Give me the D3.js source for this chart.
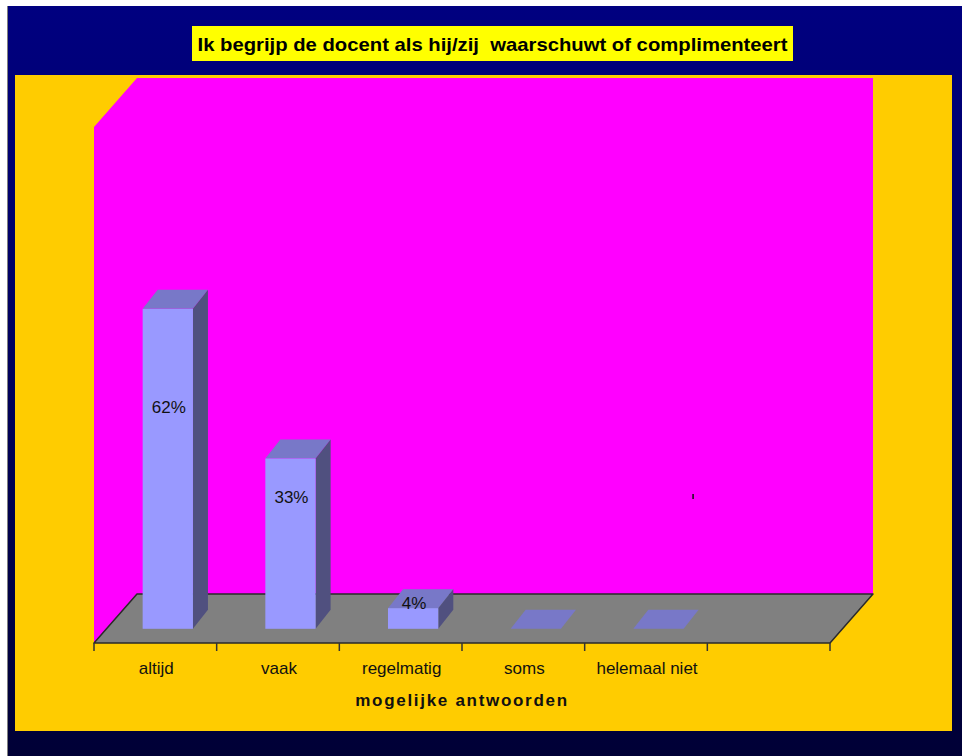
<!DOCTYPE html>
<html>
<head>
<meta charset="utf-8">
<script src="https://cdn.jsdelivr.net/npm/d3@7"></script>
<style>
  html, body { margin: 0; padding: 0; background: #fff; }
  svg { display: block; }
  text { font-family: "Liberation Sans", Arial, sans-serif; white-space: pre; }
</style>
</head>
<body>
<svg id="chart" width="962" height="756"></svg>
<script>
// Survey answers and their shares (percent)
const categories = ["altijd", "vaak", "regelmatig", "soms", "helemaal niet", ""];
const values = [62, 33, 4, 0, 0, null];
const valueLabels = ["62%", "33%", "4%", "", "", ""];
const valueDomain = [0, 100];
const chartTitle = "Ik begrijp de docent als hij/zij  waarschuwt of complimenteert";
const axisTitle = "mogelijke antwoorden";

const svg = d3.select("#chart");
const W = 962, H = 756;

// Background with a navy gradient
const defs = svg.append("defs");
const grad = defs.append("linearGradient").attr("id", "bg").attr("x1", 0).attr("y1", 0).attr("x2", 0).attr("y2", 1);
grad.append("stop").attr("offset", "0%").attr("stop-color", "#000080");
grad.append("stop").attr("offset", "100%").attr("stop-color", "#000036");

svg.append("rect").attr("width", W).attr("height", H).attr("fill", "#ffffff");
svg.append("rect").attr("x", 8).attr("y", 6).attr("width", W - 8).attr("height", H - 6).attr("fill", "url(#bg)");
svg.append("line").attr("x1", 7.5).attr("x2", 7.5).attr("y1", 6).attr("y2", H)
  .attr("stroke", "#808080").attr("stroke-width", 1);

// Plot panel
svg.append("rect").attr("x", 15).attr("y", 75).attr("width", 937).attr("height", 656).attr("fill", "#FFCC00");

// Projection: front plane baseline plus an oblique depth offset
const baseY = 643;
const DX = 43, DY = 49;          // floor depth
const BDX = 15, BDY = 19;        // bar depth
const barT = 0.29;               // bar front position within the floor depth

const x = d3.scaleBand().domain(d3.range(categories.length)).range([94, 830]);
const h = d3.scaleLinear().domain(valueDomain).range([0, 516]);

const P = (px, t, ht) => [px + t * DX, baseY - t * DY - ht];

// Back and side walls
const x0 = x.range()[0], x1 = x.range()[1], hMax = h(valueDomain[1]);
svg.append("polygon")
  .attr("points", [P(x0, 0, 0), P(x0, 0, hMax), P(x0, 1, hMax), P(x1, 1, hMax), P(x1, 1, 0), P(x0, 1, 0)].map(p => p.join(",")).join(" "))
  .attr("fill", "#FF00FF");

// Floor
svg.append("polygon")
  .attr("points", [P(x0, 0, 0), P(x1, 0, 0), P(x1, 1, 0), P(x0, 1, 0)].map(p => p.join(",")).join(" "))
  .attr("fill", "#808080").attr("stroke", "#2a2a2a").attr("stroke-width", 1.5).attr("stroke-linejoin", "round");

// Category boundary ticks
const bounds = d3.range(categories.length + 1).map(i => i < categories.length ? x(i) : x1);
svg.append("g").selectAll("line").data(bounds).join("line")
  .attr("x1", d => d).attr("x2", d => d).attr("y1", baseY).attr("y2", baseY + 8)
  .attr("stroke", "#333").attr("stroke-width", 1.5);

// Category labels
svg.append("g").selectAll("text").data(categories).join("text")
  .attr("x", (d, i) => x(i) + x.bandwidth() / 2 + 1)
  .attr("y", 674)
  .attr("text-anchor", "middle")
  .attr("font-size", 17)
  .attr("fill", "#111")
  .text(d => d);

// Bars (front, top, side faces)
const barW = x.bandwidth() * 0.41;
const bars = values.map((v, i) => ({ v, i })).filter(d => d.v !== null);
const g = svg.append("g");
bars.forEach(d => {
  const cx = x(d.i) + x.bandwidth() / 2 + barT * DX;
  const left = cx - barW / 2, right = cx + barW / 2;
  const yb = baseY - barT * DY;
  const yt = yb - h(d.v);
  const pts = a => a.map(p => p.join(",")).join(" ");
  // top face
  g.append("polygon")
    .attr("points", pts([[left, yt], [right, yt], [right + BDX, yt - BDY], [left + BDX, yt - BDY]]))
    .attr("fill", "#7878C8");
  if (d.v > 0) {
    // side face
    g.append("polygon")
      .attr("points", pts([[right, yt], [right + BDX, yt - BDY], [right + BDX, yb - BDY], [right, yb]]))
      .attr("fill", "#50507F");
    // front face
    g.append("rect").attr("x", left).attr("y", yt).attr("width", barW).attr("height", yb - yt)
      .attr("fill", "#9999FF");
  }
  // value label
  if (valueLabels[d.i]) {
    const ly = Math.max(yb - h(d.v) * 0.6 - 30, yt - 5);
    g.append("text")
      .attr("x", cx + 1)
      .attr("y", ly)
      .attr("dy", "0.35em")
      .attr("text-anchor", "middle")
      .attr("font-size", 17)
      .attr("fill", "#111")
      .text(valueLabels[d.i]);
  }
});

// Small stray label mark inside the "helemaal niet" column
svg.append("rect")
  .attr("x", x(4) + x.bandwidth() - 15).attr("y", 494)
  .attr("width", 1.5).attr("height", 5).attr("fill", "#111");

// Chart title in a yellow box
const titleBox = svg.append("g");
titleBox.append("rect").attr("x", 192).attr("y", 26).attr("width", 601).attr("height", 35).attr("fill", "#FFFF00");
titleBox.append("text")
  .attr("x", 492.5).attr("y", 51)
  .attr("text-anchor", "middle")
  .attr("font-size", 19)
  .attr("font-weight", "bold")
  .attr("fill", "#000")
  .attr("textLength", 590)
  .attr("lengthAdjust", "spacingAndGlyphs")
  .text(chartTitle);

// Axis title
svg.append("text")
  .attr("x", 462).attr("y", 706)
  .attr("text-anchor", "middle")
  .attr("font-size", 17)
  .attr("font-weight", "bold")
  .attr("letter-spacing", 1.7)
  .attr("fill", "#111")
  .text(axisTitle);
</script>
</body>
</html>
